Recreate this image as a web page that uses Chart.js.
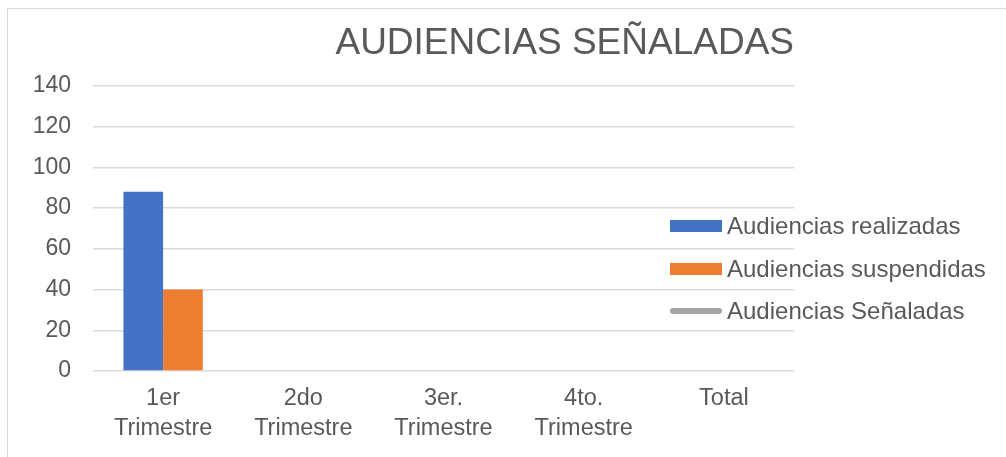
<!DOCTYPE html>
<html>
<head>
<meta charset="utf-8">
<script src="https://cdn.jsdelivr.net/npm/chart.js@4.4.0/dist/chart.umd.min.js"></script>
<style>
  html, body { margin: 0; padding: 0; background: #ffffff; overflow: hidden; }
  #wrap { position: relative; width: 1006px; height: 457px; }
  #frame { position: absolute; left: 7px; top: 8px; width: 1100px; height: 520px; border: 1.5px solid #d9d9d9; box-sizing: border-box; }
  #c { position: absolute; left: 0; top: 0; }
  #legend { position: absolute; left: 0; top: 0; font-family: "Liberation Sans", Arial, sans-serif; font-size: 24px; color: #595959; }
  .item { position: absolute; left: 670px; height: 24px; line-height: 24px; display: flex; align-items: center; white-space: nowrap; }
  .sw { width: 52px; margin-right: 5px; flex: none; }
</style>
</head>
<body>
<div id="wrap">
  <div id="frame"></div>
  <canvas id="c" width="1006" height="457"></canvas>
  <div id="legend"></div>
</div>
<script>
const titleText = "AUDIENCIAS SEÑALADAS";
const categories = [["1er", "Trimestre"], ["2do", "Trimestre"], ["3er.", "Trimestre"], ["4to.", "Trimestre"], "Total"];
const seriesNames = ["Audiencias realizadas", "Audiencias suspendidas", "Audiencias Señaladas"];
const realizadas = [88, null, null, null, null];
const suspendidas = [40, null, null, null, null];
const senaladas = [null, null, null, null, null];
const yTicks = [0, 20, 40, 60, 80, 100, 120, 140];

const colors = ["#4472C4", "#ED7D31", "#A5A5A5"];
const FONT = "'Liberation Sans', Arial, sans-serif";
const TXT = "#595959";

const chart = new Chart(document.getElementById('c'), {
  type: 'bar',
  data: {
    labels: categories,
    datasets: [
      { label: seriesNames[0], data: realizadas, backgroundColor: colors[0], borderWidth: 0, categoryPercentage: 0.566, barPercentage: 1.0, order: 2 },
      { label: seriesNames[1], data: suspendidas, backgroundColor: colors[1], borderWidth: 0, categoryPercentage: 0.566, barPercentage: 1.0, order: 2 },
      { type: 'line', label: seriesNames[2], data: senaladas, borderColor: colors[2], backgroundColor: colors[2], borderWidth: 3, pointRadius: 0, order: 1 }
    ]
  },
  options: {
    responsive: false,
    animation: false,
    layout: { padding: { left: 0, right: 212, top: 0, bottom: 0 } },
    plugins: {
      legend: { display: false },
      tooltip: { enabled: false },
      title: {
        display: true,
        text: titleText,
        align: 'end',
        fullSize: false,
        color: TXT,
        font: { family: FONT, size: 37, weight: 'normal', lineHeight: 1.2 },
        padding: { top: 21.5, bottom: 20 }
      }
    },
    scales: {
      x: {
        grid: { display: false, drawTicks: false },
        border: { display: false },
        ticks: { color: TXT, font: { family: FONT, size: 23.5, lineHeight: 1.3 }, padding: 12, maxRotation: 0, autoSkip: false },
        afterFit: (s) => { s.height = 86; }
      },
      y: {
        min: yTicks[0],
        max: yTicks[yTicks.length - 1],
        afterBuildTicks: (s) => { s.ticks = yTicks.map(v => ({ value: v })); },
        grid: { color: '#d9d9d9', lineWidth: 1.5, drawTicks: false },
        border: { display: false },
        ticks: { color: TXT, font: { family: FONT, size: 23 }, padding: 22 },
        afterFit: (s) => { s.width = 93; }
      }
    }
  }
});

// HTML legend built from the chart's datasets
const legendEl = document.getElementById('legend');
const rowCenters = [226, 268.5, 311];
chart.data.datasets.forEach((ds, i) => {
  const row = document.createElement('div');
  row.className = 'item';
  row.style.top = (rowCenters[i] - 12) + 'px';
  const sw = document.createElement('span');
  sw.className = 'sw';
  if (ds.type === 'line') {
    sw.style.height = '6px';
    sw.style.borderRadius = '3px';
    sw.style.background = ds.borderColor;
  } else {
    sw.style.height = '12px';
    sw.style.background = ds.backgroundColor;
  }
  const tx = document.createElement('span');
  tx.textContent = ds.label;
  row.appendChild(sw);
  row.appendChild(tx);
  legendEl.appendChild(row);
});
</script>
</body>
</html>
